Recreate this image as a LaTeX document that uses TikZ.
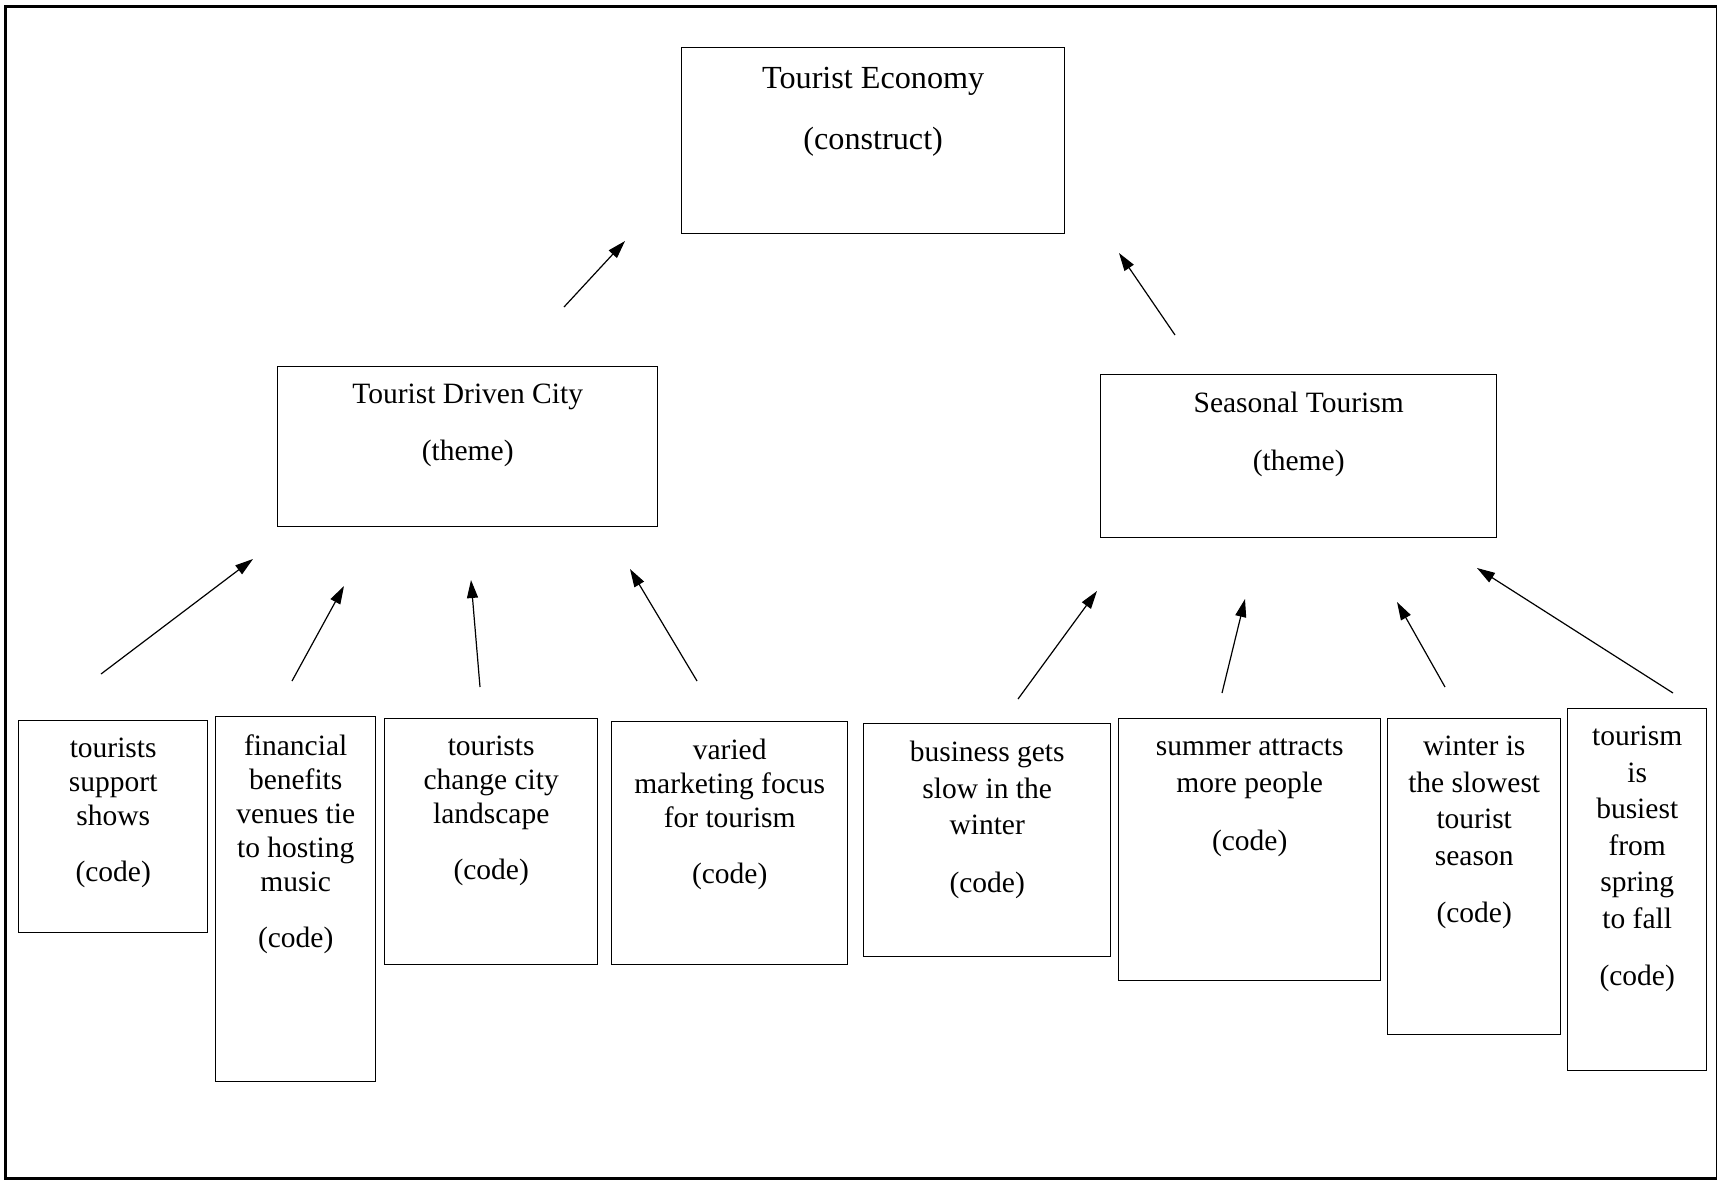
\documentclass[tikz,border=0pt]{standalone}
\usepackage{fontspec}
\setmainfont{Liberation Serif}
\usetikzlibrary{arrows.meta}

\begin{document}
\begin{tikzpicture}[x=0.5pt, y=-0.5pt,
                    map box/.style={rectangle, draw, line width=0.7pt, anchor=north west, inner sep=0pt},
                    map text/.style={anchor=north, align=center, inner sep=0pt, yshift=-9pt, font=\fontsize{14.75pt}{17pt}\selectfont},
                    loose text/.style={map text, font=\fontsize{14.75pt}{18.25pt}\selectfont},
                    map arrow/.style={-{Triangle[length=9pt,width=5.5pt]}, line width=0.6pt}]

    \useasboundingbox (0,0) rectangle (1717,1180);
    \draw [line width=1.5pt] (5.5,6.5) rectangle (1717,1178.5);

    % construct and themes
    \node [map box, minimum width=191.5pt, minimum height=93pt, label={[map text, yshift=-0.8pt, font=\fontsize{16.1pt}{17pt}\selectfont]north:{Tourist Economy\\[13.5pt](construct)}}] (te) at (681,47) {};
    \node [map box, minimum width=190pt, minimum height=80pt, label={[map text]north:{Tourist Driven City\\[11.5pt](theme)}}] (tdc) at (277,366) {};
    \node [map box, minimum width=198pt, minimum height=81.5pt, label={[map text]north:{Seasonal Tourism\\[12pt](theme)}}] (st) at (1100,374) {};

    % codes
    \node [map box, minimum width=94.5pt, minimum height=106pt, label={[map text]north:{tourists\\support\\shows\\[11pt](code)}}] (c1) at (18,720) {};
    \node [map box, minimum width=80pt, minimum height=182.5pt, label={[map text]north:{financial\\benefits\\venues tie\\to hosting\\music\\[11pt](code)}}] (c2) at (215,716) {};
    \node [map box, minimum width=106.5pt, minimum height=123pt, label={[map text]north:{tourists\\change city\\landscape\\[11pt](code)}}] (c3) at (384,718) {};
    \node [map box, minimum width=118pt, minimum height=121.5pt, label={[map text]north:{varied\\marketing focus\\for tourism\\[11pt](code)}}] (c4) at (611,721) {};
    \node [map box, minimum width=123.5pt, minimum height=116.5pt, label={[loose text]north:{business gets\\slow in the\\winter\\[10.5pt](code)}}] (c5) at (863,723) {};
    \node [map box, minimum width=131pt, minimum height=131pt, label={[loose text, yshift=-1pt, font=\fontsize{14.75pt}{18.6pt}\selectfont]north:{summer attracts\\more people\\[10.5pt](code)}}] (c6) at (1118,718) {};
    \node [map box, minimum width=86.5pt, minimum height=158pt, label={[loose text]north:{winter is\\the slowest\\tourist\\season\\[10.5pt](code)}}] (c7) at (1387,718) {};
    \node [map box, minimum width=69.5pt, minimum height=181pt, label={[loose text]north:{tourism\\is\\busiest\\from\\spring\\to fall\\[10.5pt](code)}}] (c8) at (1567,708) {};

    % arrow ends
    \coordinate (tdc from) at (564,307);  \coordinate (tdc to) at (625,241);
    \coordinate (st from) at (1175,335);  \coordinate (st to) at (1119,253);
    \coordinate (c1 from) at (101,674);   \coordinate (c1 to) at (253,559);
    \coordinate (c2 from) at (292,681);   \coordinate (c2 to) at (344,586);
    \coordinate (c3 from) at (480,687);   \coordinate (c3 to) at (471,580);
    \coordinate (c4 from) at (697,681);   \coordinate (c4 to) at (630,569);
    \coordinate (c5 from) at (1018,699);  \coordinate (c5 to) at (1097,591);
    \coordinate (c6 from) at (1222,693);  \coordinate (c6 to) at (1245,599);
    \coordinate (c7 from) at (1445,687);  \coordinate (c7 to) at (1397,602);
    \coordinate (c8 from) at (1673,693);  \coordinate (c8 to) at (1477,568);

    \draw [map arrow] (tdc from) -- (tdc to);
    \draw [map arrow] (st from) -- (st to);
    \draw [map arrow] (c1 from) -- (c1 to);
    \draw [map arrow] (c2 from) -- (c2 to);
    \draw [map arrow] (c3 from) -- (c3 to);
    \draw [map arrow] (c4 from) -- (c4 to);
    \draw [map arrow] (c5 from) -- (c5 to);
    \draw [map arrow] (c6 from) -- (c6 to);
    \draw [map arrow] (c7 from) -- (c7 to);
    \draw [map arrow] (c8 from) -- (c8 to);

\end{tikzpicture}
\end{document}
